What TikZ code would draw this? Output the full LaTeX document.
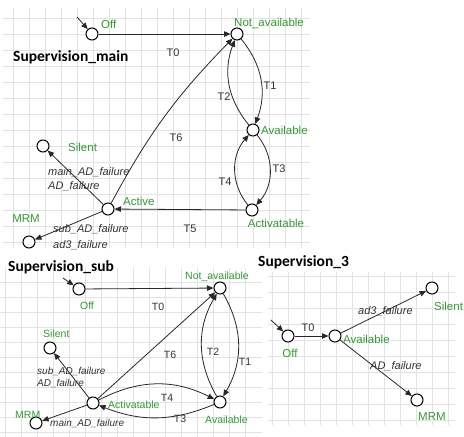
\documentclass[tikz,border=0pt]{standalone}
\usepackage{fontspec}
\setmainfont{Liberation Sans}
\newfontfamily\titlefont{Carlito}
\usetikzlibrary{arrows.meta}
\definecolor{lblgreen}{RGB}{52,154,52}
\definecolor{gridgray}{RGB}{226,226,226}
\definecolor{edgegray}{RGB}{40,40,40}
\definecolor{txtgray}{RGB}{50,50,50}
\tikzset{
  gridline/.style={draw=gridgray, line width=0.9pt},
  st/.style={circle, draw=black, fill=white, line width=1pt, minimum size=12pt, inner sep=0pt},
  edge/.style={draw=edgegray, line width=0.8pt, -{Triangle[length=6.5pt,width=5.5pt]}},
  gl/.style={text=lblgreen, inner sep=0pt, font=\fontsize{11.5}{13}\selectfont},
  gls/.style={text=lblgreen, inner sep=0pt, font=\fontsize{10.5}{12}\selectfont},
  tl/.style={text=txtgray, inner sep=0pt, font=\fontsize{11}{13}\selectfont},
  tls/.style={text=txtgray, inner sep=0pt, font=\fontsize{10.5}{12}\selectfont},
  il/.style={text=txtgray, inner sep=0pt, font=\fontsize{11}{13}\selectfont\itshape},
  ils/.style={text=txtgray, inner sep=0pt, font=\fontsize{10}{12}\selectfont\itshape},
  ttl/.style={inner sep=0pt, font=\titlefont\fontsize{15.5}{18}\selectfont\bfseries},
}
\begin{document}
\begin{tikzpicture}[x=1pt,y=1pt]
\useasboundingbox (0,0) rectangle (464,-437);
\fill[white] (0,0) rectangle (464,-437);
% ---------- grids ----------
\foreach \x in {13,29,...,301} \draw[gridline] (\x,-8) -- (\x,-248);
\foreach \y in {18,34,...,242} \draw[gridline] (3,-\y) -- (310,-\y);
\foreach \x in {5,21,...,245} \draw[gridline] (\x,-268) -- (\x,-437);
\foreach \y in {282,297,...,432} \draw[gridline] (0,-\y) -- (262,-\y);
\foreach \x in {272,288,...,448} \draw[gridline] (\x,-272) -- (\x,-425);
\foreach \y in {276,292,...,420} \draw[gridline] (268,-\y) -- (455,-\y);

% ---------- Supervision_main ----------
\node[st] (moff) at (92,-34) {};
\node[st] (mna) at (237,-34) {};
\node[st] (mav) at (253,-130) {};
\node[st] (mactv) at (252,-210) {};
\node[st] (mact) at (108,-209) {};
\node[st] (msil) at (43,-146) {};
\node[st] (mmrm) at (29,-242) {};
\coordinate (min) at (77,-17);
\draw[edge] (min) -- (moff);
\draw[edge] (moff) -- (mna);
\draw[edge] (mact) to[bend left=8] (mna);
\draw[edge] (mna) to[bend left=30] (mav);
\draw[edge] (mav) to[bend left=30] (mna);
\draw[edge] (mav) to[bend left=40] (mactv);
\draw[edge] (mactv) to[bend left=40] (mav);
\draw[edge] (mactv) -- (mact);
\draw[edge] (mact) -- (msil);
\draw[edge] (mact) -- (mmrm);
\node[ttl, anchor=west] (mtitle) at (13,-57) {Supervision\_main};
\node[gl, anchor=west] (lmoff) at (101,-24) {Off};
\node[gl, anchor=west] (lmna) at (234,-23) {Not\_available};
\node[gl, anchor=west] (lmav) at (261,-130) {Available};
\node[gl] (lmactv) at (276,-223) {Activatable};
\node[gl, anchor=west] (lmact) at (123,-201) {Active};
\node[gl, anchor=west] (lmsil) at (68,-147) {Silent};
\node[gl] (lmmrm) at (26,-219) {MRM};
\node[tl] (mt0) at (173,-53) {T0};
\node[tl] (mt1) at (270,-86) {T1};
\node[tl] (mt2) at (224,-97) {T2};
\node[tl] (mt3) at (279,-169) {T3};
\node[tl] (mt4) at (225,-182) {T4};
\node[tl] (mt5) at (190,-229) {T5};
\node[tl] (mt6) at (176,-138) {T6};
\node[il, anchor=west] (mf1) at (48,-172) {main\_AD\_failure};
\node[il, anchor=west] (mf2) at (48,-186) {AD\_failure};
\node[il, anchor=west] (mf3) at (53,-229) {sub\_AD\_failure};
\node[il, anchor=west] (mf4) at (53,-245) {ad3\_failure};

% ---------- Supervision_sub ----------
\node[st] (soff) at (79,-289) {};
\node[st] (sna) at (220,-288) {};
\node[st] (ssil) at (50,-348) {};
\node[st] (sactv) at (93,-403) {};
\node[st] (sav) at (220,-402) {};
\node[st] (smrm) at (36,-423) {};
\coordinate (sin) at (63,-278);
\draw[edge] (sin) -- (soff);
\draw[edge] (soff) -- (sna);
\draw[edge] (sactv) -- (sna);
\draw[edge] (sna) to[bend left=30] (sav);
\draw[edge] (sav) to[bend left=30] (sna);
\draw[edge] (sactv) to[bend left=27] (sav);
\draw[edge] (sav) to[bend left=22] (sactv);
\draw[edge] (sactv) -- (ssil);
\draw[edge] (sactv) -- (smrm);
\node[ttl, anchor=west] (stitle) at (8,-267) {Supervision\_sub};
\node[gls] (lsoff) at (87,-306) {Off};
\node[gls, anchor=west] (lsna) at (185,-277) {Not\_available};
\node[gls, anchor=west] (lssil) at (43,-334) {Silent};
\node[gls, anchor=west] (lsactv) at (108,-405) {Activatable};
\node[gls, anchor=west] (lsav) at (205,-420) {Available};
\node[gls, anchor=west] (lsmrm) at (15,-415) {MRM};
\node[tls] (st0) at (158,-307) {T0};
\node[tls] (st6) at (170,-355) {T6};
\node[tls] (st2) at (213,-352) {T2};
\node[tls] (st1) at (245,-362) {T1};
\node[tls] (st4) at (167,-398) {T4};
\node[tls] (st3) at (180,-419) {T3};
\node[ils, anchor=west] (sf1) at (37,-371) {sub\_AD\_failure};
\node[ils, anchor=west] (sf2) at (37,-383) {AD\_failure};
\node[ils, anchor=west] (sf3) at (50,-423) {main\_AD\_failure};

% ---------- Supervision_3 ----------
\node[st] (toff) at (288,-336) {};
\node[st] (tav) at (335,-336) {};
\node[st] (tsil) at (432,-288) {};
\node[st] (tmrm) at (417,-400) {};
\coordinate (tin) at (271,-320);
\draw[edge] (tin) -- (toff);
\draw[edge] (toff) -- (tav);
\draw[edge] (tav) -- (tsil);
\draw[edge] (tav) -- (tmrm);
\node[ttl, anchor=west] (ttitle) at (258,-262) {Supervision\_3};
\node[gl] (ltoff) at (290,-353) {Off};
\node[gl, anchor=west] (ltav) at (343,-339) {Available};
\node[gl, anchor=west] (ltsil) at (434,-306) {Silent};
\node[gl, anchor=west] (ltmrm) at (418,-417) {MRM};
\node[tl] (tt0) at (308,-328) {T0};
\node[il, anchor=west] (tf1) at (358,-311) {ad3\_failure};
\node[il, anchor=west] (tf2) at (370,-366) {AD\_failure};
\end{tikzpicture}
\end{document}
